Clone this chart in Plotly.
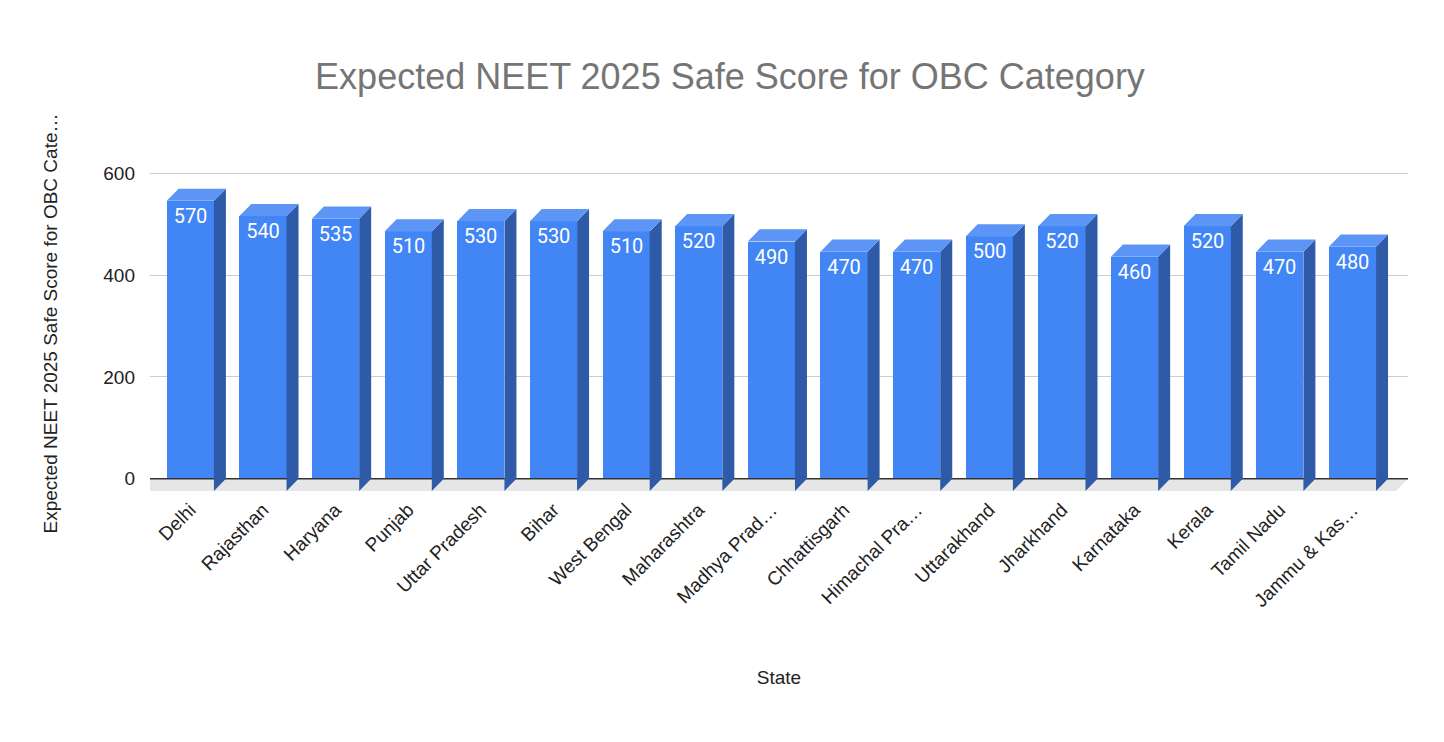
import plotly.graph_objects as go

states = ["Delhi", "Rajasthan", "Haryana", "Punjab", "Uttar Pradesh", "Bihar",
          "West Bengal", "Maharashtra", "Madhya Prad…", "Chhattisgarh",
          "Himachal Pra…", "Uttarakhand", "Jharkhand", "Karnataka", "Kerala",
          "Tamil Nadu", "Jammu & Kas…"]
scores = [570, 540, 535, 510, 530, 530, 510, 520, 490, 470, 470, 500, 520, 460, 520, 470, 480]

# pseudo-3D geometry (category units / score units)
W = 0.65
DX = 0.165
DY = 24

n = len(states)
xs = list(range(n))
front_x = [i - DX for i in xs]

side_x, side_y, top_x, top_y = [], [], [], []
for i, v in zip(xs, scores):
    r = i + W / 2
    l = i - W / 2
    side_x += [r - DX, r - DX, r, r, r - DX, None]
    side_y += [-DY, v - DY, v, 0, -DY, None]
    top_x += [l - DX, r - DX, r, l, l - DX, None]
    top_y += [v - DY, v - DY, v, v, v - DY, None]

x0, x1 = -0.72, 16.6
fig = go.Figure()
# floor
fig.add_trace(go.Scatter(x=[x0, x1, x1 - DX, x0 - DX, x0], y=[0, 0, -DY, -DY, 0],
                         fill="toself", fillcolor="#e6e6e6", line=dict(width=0),
                         mode="lines", hoverinfo="skip", showlegend=False))
fig.add_trace(go.Scatter(x=[x0, x1], y=[0, 0], mode="lines",
                         line=dict(color="#333333", width=1.5),
                         hoverinfo="skip", showlegend=False))
fig.add_trace(go.Scatter(x=side_x, y=side_y, fill="toself", fillcolor="#2f5aa8",
                         line=dict(width=0), mode="lines", hoverinfo="skip", showlegend=False))
fig.add_trace(go.Scatter(x=top_x, y=top_y, fill="toself", fillcolor="#5c95f5",
                         line=dict(width=0), mode="lines", hoverinfo="skip", showlegend=False))
fig.add_trace(go.Bar(
    x=front_x, y=scores, base=-DY, width=W, marker=dict(color="#4285f4", line=dict(width=0)),
    text=[str(v) for v in scores], textposition="inside", insidetextanchor="end",
    textangle=0, textfont=dict(color="white", size=20, family="Roboto, Arial"),
    showlegend=False, cliponaxis=False,
))

fig.update_layout(
    width=1444, height=742,
    paper_bgcolor="white", plot_bgcolor="white",
    margin=dict(l=142, r=44, t=145, b=256),
    font=dict(family="Liberation Sans, Arial, sans-serif", color="#222222"),
    title=dict(text="Expected NEET 2025 Safe Score for OBC Category", x=0.5, y=0.925,
               xanchor="center", font=dict(size=36, color="#757575")),
    xaxis=dict(range=[x0, x1], tickmode="array", tickvals=front_x, ticktext=states,
               tickangle=-45, tickfont=dict(size=19), showgrid=False, zeroline=False,
               ticks="", title=dict(text="State", font=dict(size=19)), automargin=False),
    yaxis=dict(range=[-30, 640], tickvals=[0, 200, 400, 600], gridcolor="#cccccc",
               zeroline=False, tickfont=dict(size=19), ticklabelstandoff=14,
               title=dict(text="Expected NEET 2025 Safe Score for OBC Cate…", font=dict(size=19),
                          standoff=40),
               automargin=False),
    bargap=0,
)
fig.update_xaxes(title_standoff=60)
fig.write_html("out.html")
